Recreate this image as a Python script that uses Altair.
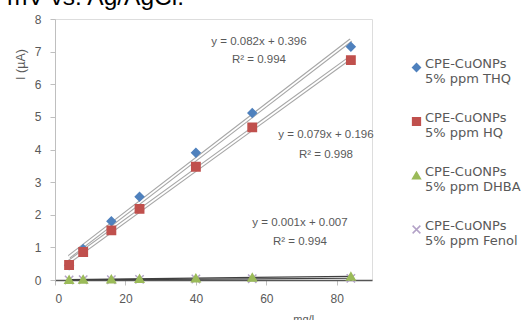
import altair as alt
import pandas as pd

conc = [4, 8, 16, 24, 40, 56, 84]
thq = [0.45, 0.95, 1.80, 2.55, 3.90, 5.12, 7.15]
hq = [0.46, 0.86, 1.52, 2.18, 3.47, 4.68, 6.74]
dhba = [0.01, 0.02, 0.03, 0.04, 0.06, 0.08, 0.11]
fenol = [0.00, 0.01, 0.01, 0.02, 0.03, 0.04, 0.05]

series_names = ["CPE-CuONPs|5% ppm THQ", "CPE-CuONPs|5% ppm HQ",
                "CPE-CuONPs|5% ppm DHBA", "CPE-CuONPs|5% ppm Fenol"]
series_colors = ["#4f81bd", "#c0504d", "#9bbb59", "#b3a2c7"]
series_shapes = ["diamond", "square", "triangle-up", "M-1,-1L1,1M-1,1L1,-1"]

eq_text = ["y = 0.082x + 0.396", "R² = 0.994",
           "y = 0.079x + 0.196", "R² = 0.998",
           "y = 0.001x + 0.007", "R² = 0.994"]

rows = []
for name, vals in zip(series_names, [thq, hq, dhba, fenol]):
    for c, v in zip(conc, vals):
        rows.append({"x": c, "y": v, "series": name})
df = pd.DataFrame(rows)

W, H = 317, 261
FONT = "Liberation Sans"
GRAY = "#595959"

base = alt.Chart(df)

xaxis = alt.Axis(values=[0, 20, 40, 60, 80], title="mg/L",
                 titleX=250, titleY=33, titleBaseline="top",
                 titleFontWeight="normal", titleFontSize=11,
                 titleColor=GRAY, titleFont=FONT,
                 labelFontSize=12, labelColor=GRAY, labelFont=FONT,
                 labelPadding=8, tickSize=5, tickColor="#bfbfbf",
                 labelOverlap=False,
                 domainColor="#555555", domainWidth=1.5, grid=False)
yaxis = alt.Axis(values=[0, 1, 2, 3, 4, 5, 6, 7, 8], title="I (µA)",
                 titleX=-35, titleY=45, titleAngle=-90,
                 titleAlign="center", titleBaseline="middle",
                 titleFontWeight="normal", titleFontSize=12.5,
                 titleColor=GRAY, titleFont=FONT,
                 labelFontSize=12, labelColor=GRAY, labelFont=FONT,
                 labelPadding=9, tickSize=5, tickColor="#bfbfbf",
                 labelOverlap=False,
                 domainColor="#bfbfbf", grid=False)

def xenc():
    return alt.X("x:Q", scale=alt.Scale(domain=[0, 90]), axis=xaxis)

def yenc():
    return alt.Y("y:Q", scale=alt.Scale(domain=[0, 8]), axis=yaxis)

reg = base.transform_regression("x", "y", groupby=["series"])

top_names = series_names[:2]
low_names = series_names[2:]

trend_outer = reg.transform_filter(
    alt.FieldOneOfPredicate(field="series", oneOf=top_names)
).mark_line(color="#a6a6a6", strokeWidth=4).encode(x=xenc(), y=yenc(), detail="series:N")
trend_inner = reg.transform_filter(
    alt.FieldOneOfPredicate(field="series", oneOf=top_names)
).mark_line(color="#ffffff", strokeWidth=1.8).encode(x=xenc(), y=yenc(), detail="series:N")
trend_low = reg.transform_filter(
    alt.FieldOneOfPredicate(field="series", oneOf=low_names)
).mark_line(color="#404040", strokeWidth=1.2).encode(x=xenc(), y=yenc(), detail="series:N")

color_scale = alt.Scale(domain=series_names, range=series_colors)
shape_scale = alt.Scale(domain=series_names, range=series_shapes)

legend = alt.Legend(title=None, orient="none", legendX=355, legendY=42,
                    labelExpr="split(datum.label, '|')",
                    labelFont="DejaVu Sans", labelFontSize=13, labelColor=GRAY,
                    labelBaseline="alphabetic", rowPadding=25,
                    symbolSize=60, labelOffset=2, symbolStrokeWidth=1.5)

points = base.mark_point(filled=True, size=70, strokeWidth=1.5, opacity=1).encode(
    x=xenc(), y=yenc(),
    color=alt.Color("series:N", scale=color_scale, sort=series_names, legend=legend),
    shape=alt.Shape("series:N", scale=shape_scale, sort=series_names, legend=legend),
    stroke=alt.Stroke("series:N", scale=color_scale, sort=series_names, legend=None),
    order=alt.Order("series:N", sort="descending"),
)

ann_pos = [(204, 23), (204, 41), (271, 116), (271, 136), (245, 204), (245, 223)]
anns = []
for t, (px, py) in zip(eq_text, ann_pos):
    anns.append(alt.Chart(pd.DataFrame({"t": [t]})).mark_text(
        font=FONT, fontSize=11.5, color=GRAY, align="center", baseline="middle"
    ).encode(x=alt.value(px), y=alt.value(py), text="t:N"))

title_txt = alt.Chart(pd.DataFrame({"t": ["mV vs. Ag/AgCl."]})).mark_text(
    font=FONT, fontSize=24.5, color="#000000", align="left", baseline="alphabetic"
).encode(x=alt.value(-48), y=alt.value(-14), text="t:N")

chart = alt.layer(trend_outer, trend_inner, trend_low, points, *anns, title_txt).properties(
    width=W, height=H,
    autosize=alt.AutoSizeParams(type="none"),
    padding={"left": 55, "top": 19, "right": 154, "bottom": 40},
).configure_view(stroke=None).configure(background="white")

chart.save("out.html", embed_options={"renderer": "svg", "actions": False})
